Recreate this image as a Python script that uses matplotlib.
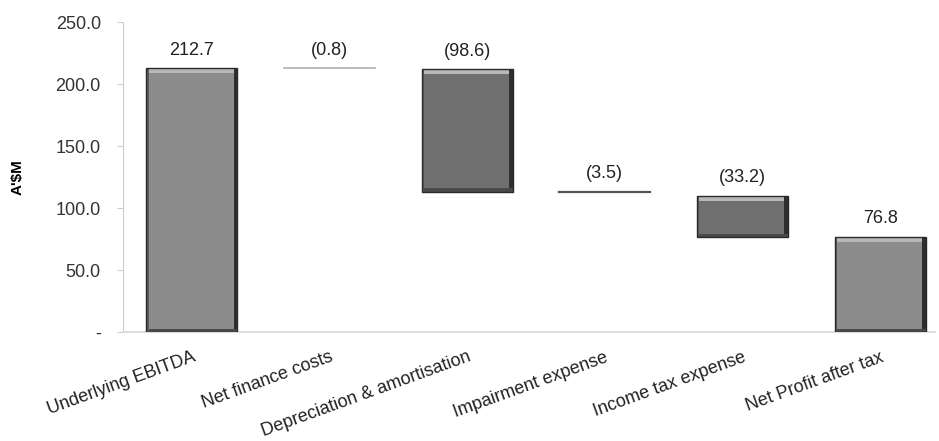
import matplotlib

matplotlib.use("Agg")
import matplotlib.pyplot as plt
from matplotlib.patches import Rectangle

CATEGORIES = [
    "Underlying EBITDA",
    "Net finance costs",
    "Depreciation & amortisation",
    "Impairment expense",
    "Income tax expense",
    "Net Profit after tax",
]
CHANGES = [212.7, -0.8, -98.6, -3.5, -33.2, 76.8]
VALUE_LABELS = ["212.7", "(0.8)", "(98.6)", "(3.5)", "(33.2)", "76.8"]
IS_TOTAL = [True, False, False, False, False, True]
Y_TICKS = [0, 50, 100, 150, 200, 250]
Y_TICK_LABELS = ["-", "50.0", "100.0", "150.0", "200.0", "250.0"]

TOTAL_COLOR = "#8c8c8c"
STEP_COLOR = "#6f6f6f"
BAR_WIDTH = 0.66

plt.rcParams["font.family"] = ["Liberation Sans", "DejaVu Sans"]


def waterfall_spans(changes, is_total):
    bottoms = []
    heights = []
    running = 0.0
    for change, total in zip(changes, is_total):
        if total:
            bottoms.append(0.0)
            heights.append(change)
            running = change
        else:
            running += change
            bottoms.append(running)
            heights.append(-change)
    return bottoms, heights


def add_bevel(axis, x, bottom, height):
    # fake the bevelled look of the original bars with light/dark inset strips
    left = x - BAR_WIDTH / 2
    edge_x = BAR_WIDTH * 0.04
    edge_y = min(4.0, height * 0.12)
    axis.add_patch(Rectangle((left, bottom + height - edge_y), BAR_WIDTH, edge_y,
                             facecolor="#b8b8b8", edgecolor="none", zorder=3))
    axis.add_patch(Rectangle((left + BAR_WIDTH - edge_x, bottom), edge_x, height,
                             facecolor="#2e2e2e", edgecolor="none", zorder=3))
    axis.add_patch(Rectangle((left, bottom), BAR_WIDTH, edge_y * 0.7,
                             facecolor="#4a4a4a", edgecolor="none", zorder=3))
    axis.add_patch(Rectangle((left, bottom), edge_x * 0.6, height,
                             facecolor="#5a5a5a", edgecolor="none", zorder=3))
    axis.add_patch(Rectangle((left, bottom), BAR_WIDTH, height, facecolor="none",
                             edgecolor="#2a2a2a", linewidth=1.0, zorder=4))


def main():
    figure = plt.figure(figsize=(9.39, 4.41), dpi=100)
    axis = figure.add_axes([0.131, 0.247, 0.865, 0.703])

    bottoms, heights = waterfall_spans(CHANGES, IS_TOTAL)
    positions = list(range(len(CATEGORIES)))

    for x, bottom, height, total, label in zip(positions, bottoms, heights, IS_TOTAL, VALUE_LABELS):
        color = TOTAL_COLOR if total else STEP_COLOR
        if height < 5:
            line_color = "#b0b0b0" if height < 2 else "#555555"
            axis.plot([x - BAR_WIDTH / 2, x + BAR_WIDTH / 2], [bottom + height, bottom + height],
                      color=line_color, linewidth=1.6 if height >= 2 else 1.2, zorder=3)
        else:
            axis.bar(x, height, bottom=bottom, width=BAR_WIDTH, color=color,
                     edgecolor="none", zorder=2)
            add_bevel(axis, x, bottom, height)
        axis.annotate(label, (x, bottom + height), xytext=(0, 7), textcoords="offset points",
                      ha="center", va="bottom", fontsize=13, color="#222222")

    axis.set_xlim(-0.5, 5.4)
    axis.set_ylim(0, 250)
    axis.set_yticks(Y_TICKS)
    axis.set_yticklabels(Y_TICK_LABELS, fontsize=13, color="#333333")
    axis.set_xticks(positions)
    axis.set_xticklabels(CATEGORIES, rotation=20, ha="right", rotation_mode="anchor",
                         fontsize=13, color="#222222")
    axis.tick_params(axis="x", length=0, pad=12)
    axis.tick_params(axis="y", length=4, color="#cccccc", pad=12)
    axis.set_ylabel("A'$M", fontsize=11, fontweight="bold", labelpad=22)

    for side in ["top", "right"]:
        axis.spines[side].set_visible(False)
    axis.spines["left"].set_color("#cccccc")
    axis.spines["bottom"].set_color("#dddddd")
    axis.spines["bottom"].set_linewidth(1.5)

    figure.savefig("out.png", dpi=100)
    plt.close(figure)


if __name__ == "__main__":
    main()
